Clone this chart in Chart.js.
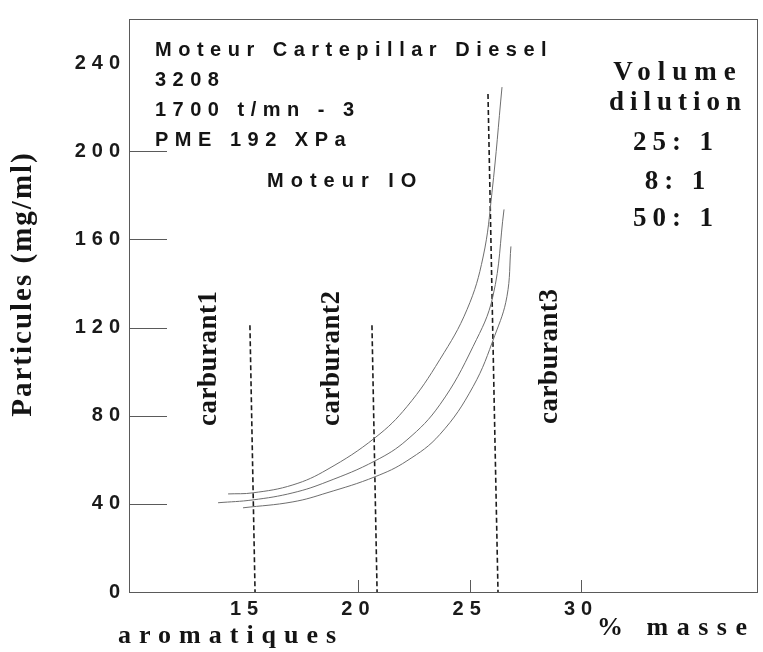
<!DOCTYPE html>
<html>
<head>
<meta charset="utf-8">
<script src="https://cdn.jsdelivr.net/npm/chart.js@4.4.0/dist/chart.umd.min.js"></script>
<style>
  html, body { margin: 0; padding: 0; background: #fff; }
  #wrap { width: 763px; height: 652px; }
</style>
</head>
<body>
<div id="wrap"><canvas id="chart" width="763" height="652"></canvas></div>
<script>
const xTicks = [15, 20, 25, 30];
const yTicks = [0, 40, 80, 120, 160, 200, 240];

// courbes de dilution (% masse aromatiques -> particules mg/ml)
const dil25X = [14.15, 15.27, 17.06, 18.59, 20.75, 22.18, 23.66, 24.88, 25.60, 26.00, 26.45];
const dil25Y = [44.5, 45.0, 48.6, 55.5, 70.0, 84.1, 105.5, 128.2, 152.0, 181.4, 229.1];
const dil8X = [13.70, 15.27, 17.06, 18.59, 20.75, 22.18, 23.66, 25.15, 26.04, 26.54];
const dil8Y = [40.5, 41.8, 45.0, 50.0, 59.5, 69.0, 85.0, 111.4, 134.1, 173.6];
const dil50X = [14.82, 17.06, 18.59, 20.75, 22.18, 23.66, 25.15, 26.13, 26.67, 26.85];
const dil50Y = [38.2, 40.9, 45.0, 52.3, 59.5, 71.5, 93.2, 116.5, 134.0, 156.8];

// carburants (lignes pointillées)
const carb1X = [15.13, 15.36];
const carb1Y = [121, 0];
const carb2X = [20.61, 20.84];
const carb2Y = [121, 0];
const carb3X = [25.82, 26.27];
const carb3Y = [226, 0];

const SANS = "'Liberation Sans', Arial, sans-serif";
const SERIF = "'Liberation Serif', 'Times New Roman', serif";

function pts(xs, ys) {
  return xs.map((x, i) => ({ x: x, y: ys[i] }));
}

function curve(label, xs, ys) {
  return {
    label,
    data: pts(xs, ys),
    showLine: true,
    borderColor: "#6e6e6e",
    borderWidth: 1,
    pointRadius: 0,
    tension: 0.4,
    fill: false
  };
}

function dashed(label, xs, ys) {
  return {
    label,
    data: pts(xs, ys),
    showLine: true,
    borderColor: "#1c1c1c",
    borderWidth: 1.6,
    borderDash: [5, 3],
    pointRadius: 0,
    fill: false
  };
}

function text(ctx, s, x, y, font, spacing, align, rot) {
  ctx.save();
  ctx.font = font;
  ctx.letterSpacing = spacing + "px";
  ctx.fillStyle = "#141414";
  ctx.textAlign = align;
  ctx.textBaseline = "middle";
  ctx.translate(x, y);
  if (rot) ctx.rotate(rot);
  ctx.fillText(s, 0, 0);
  ctx.restore();
}

const decor = {
  id: "decor",
  beforeUpdate(chart) {
    chart.ctx.letterSpacing = "6px";
  },
  beforeDraw(chart) {
    const ctx = chart.ctx;
    ctx.save();
    ctx.fillStyle = "#fff";
    ctx.fillRect(0, 0, chart.width, chart.height);
    ctx.restore();
    ctx.letterSpacing = "6px";
  },
  afterDraw(chart) {
    const ctx = chart.ctx;
    const a = chart.chartArea;
    const xs = chart.scales.x;
    const ys = chart.scales.y;

    ctx.save();
    ctx.letterSpacing = "0px";
    ctx.strokeStyle = "#5a5a5a";
    ctx.lineWidth = 1;
    ctx.strokeRect(a.left + 0.5, a.top + 0.5, a.right - a.left, a.bottom - a.top);

    // petites graduations vers l'intérieur
    ctx.beginPath();
    yTicks.filter(v => v > 0 && v < 240).forEach(v => {
      const p = Math.round(ys.getPixelForValue(v)) + 0.5;
      ctx.moveTo(a.left, p);
      ctx.lineTo(a.left + 38, p);
    });
    xTicks.filter(v => v > 15).forEach(v => {
      const p = Math.round(xs.getPixelForValue(v)) + 0.5;
      ctx.moveTo(p, a.bottom);
      ctx.lineTo(p, a.bottom - 12);
    });
    ctx.stroke();
    ctx.restore();

    const sansB = "bold 20px " + SANS;
    const serifB = "bold 27px " + SERIF;

    text(ctx, "Moteur Cartepillar Diesel", 155, 50, sansB, 6.5, "left");
    text(ctx, "3208", 155, 80, sansB, 6.5, "left");
    text(ctx, "1700 t/mn - 3", 155, 110, sansB, 6.5, "left");
    text(ctx, "PME 192 XPa", 155, 140, sansB, 6.5, "left");
    text(ctx, "Moteur IO", 267, 181, sansB, 7, "left");

    text(ctx, "Volume", 678, 73, serifB, 7, "center");
    text(ctx, "dilution", 678, 103, serifB, 6, "center");
    text(ctx, "25: 1", 676, 143, serifB, 6, "center");
    text(ctx, "8: 1", 678, 182, serifB, 6, "center");
    text(ctx, "50: 1", 676, 219, serifB, 6, "center");

    text(ctx, "carburant1", 209, 426, "bold 27px " + SERIF, 0.5, "left", -Math.PI / 2);
    text(ctx, "carburant2", 332, 426, "bold 27px " + SERIF, 0.5, "left", -Math.PI / 2);
    text(ctx, "carburant3", 550, 424, "bold 27px " + SERIF, 0.5, "left", -Math.PI / 2);

    text(ctx, "Particules (mg/ml)", 24, 284, "bold 29px " + SERIF, 2, "center", -Math.PI / 2);
    text(ctx, "aromatiques", 118, 636, "bold 26px " + SERIF, 8, "left");
    text(ctx, "% masse", 597, 628, "bold 26px " + SERIF, 8.5, "left");
  }
};

const tickFont = { family: SANS, size: 20, weight: "bold" };

new Chart(document.getElementById("chart"), {
  type: "scatter",
  data: {
    datasets: [
      curve("25: 1", dil25X, dil25Y),
      curve("8: 1", dil8X, dil8Y),
      curve("50: 1", dil50X, dil50Y),
      dashed("carburant1", carb1X, carb1Y),
      dashed("carburant2", carb2X, carb2Y),
      dashed("carburant3", carb3X, carb3Y)
    ]
  },
  options: {
    responsive: false,
    animation: false,
    layout: { padding: { top: 19, right: 6, left: 0, bottom: 0 } },
    plugins: {
      legend: { display: false },
      tooltip: { enabled: false }
    },
    scales: {
      x: {
        type: "linear",
        min: 9.7,
        max: 37.9,
        afterBuildTicks: s => { s.ticks = xTicks.map(v => ({ value: v })); },
        afterFit: s => { s.height = 60; },
        grid: { display: false, drawTicks: false },
        border: { display: false },
        ticks: { font: tickFont, color: "#1a1a1a", padding: 5, maxRotation: 0, autoSkip: false }
      },
      y: {
        type: "linear",
        min: 0,
        max: 260,
        afterBuildTicks: s => { s.ticks = yTicks.map(v => ({ value: v })); },
        afterFit: s => { s.width = 129; },
        grid: { display: false, drawTicks: false },
        border: { display: false },
        ticks: { font: tickFont, color: "#1a1a1a", padding: 3, autoSkip: false }
      }
    }
  },
  plugins: [decor]
});
</script>
</body>
</html>
